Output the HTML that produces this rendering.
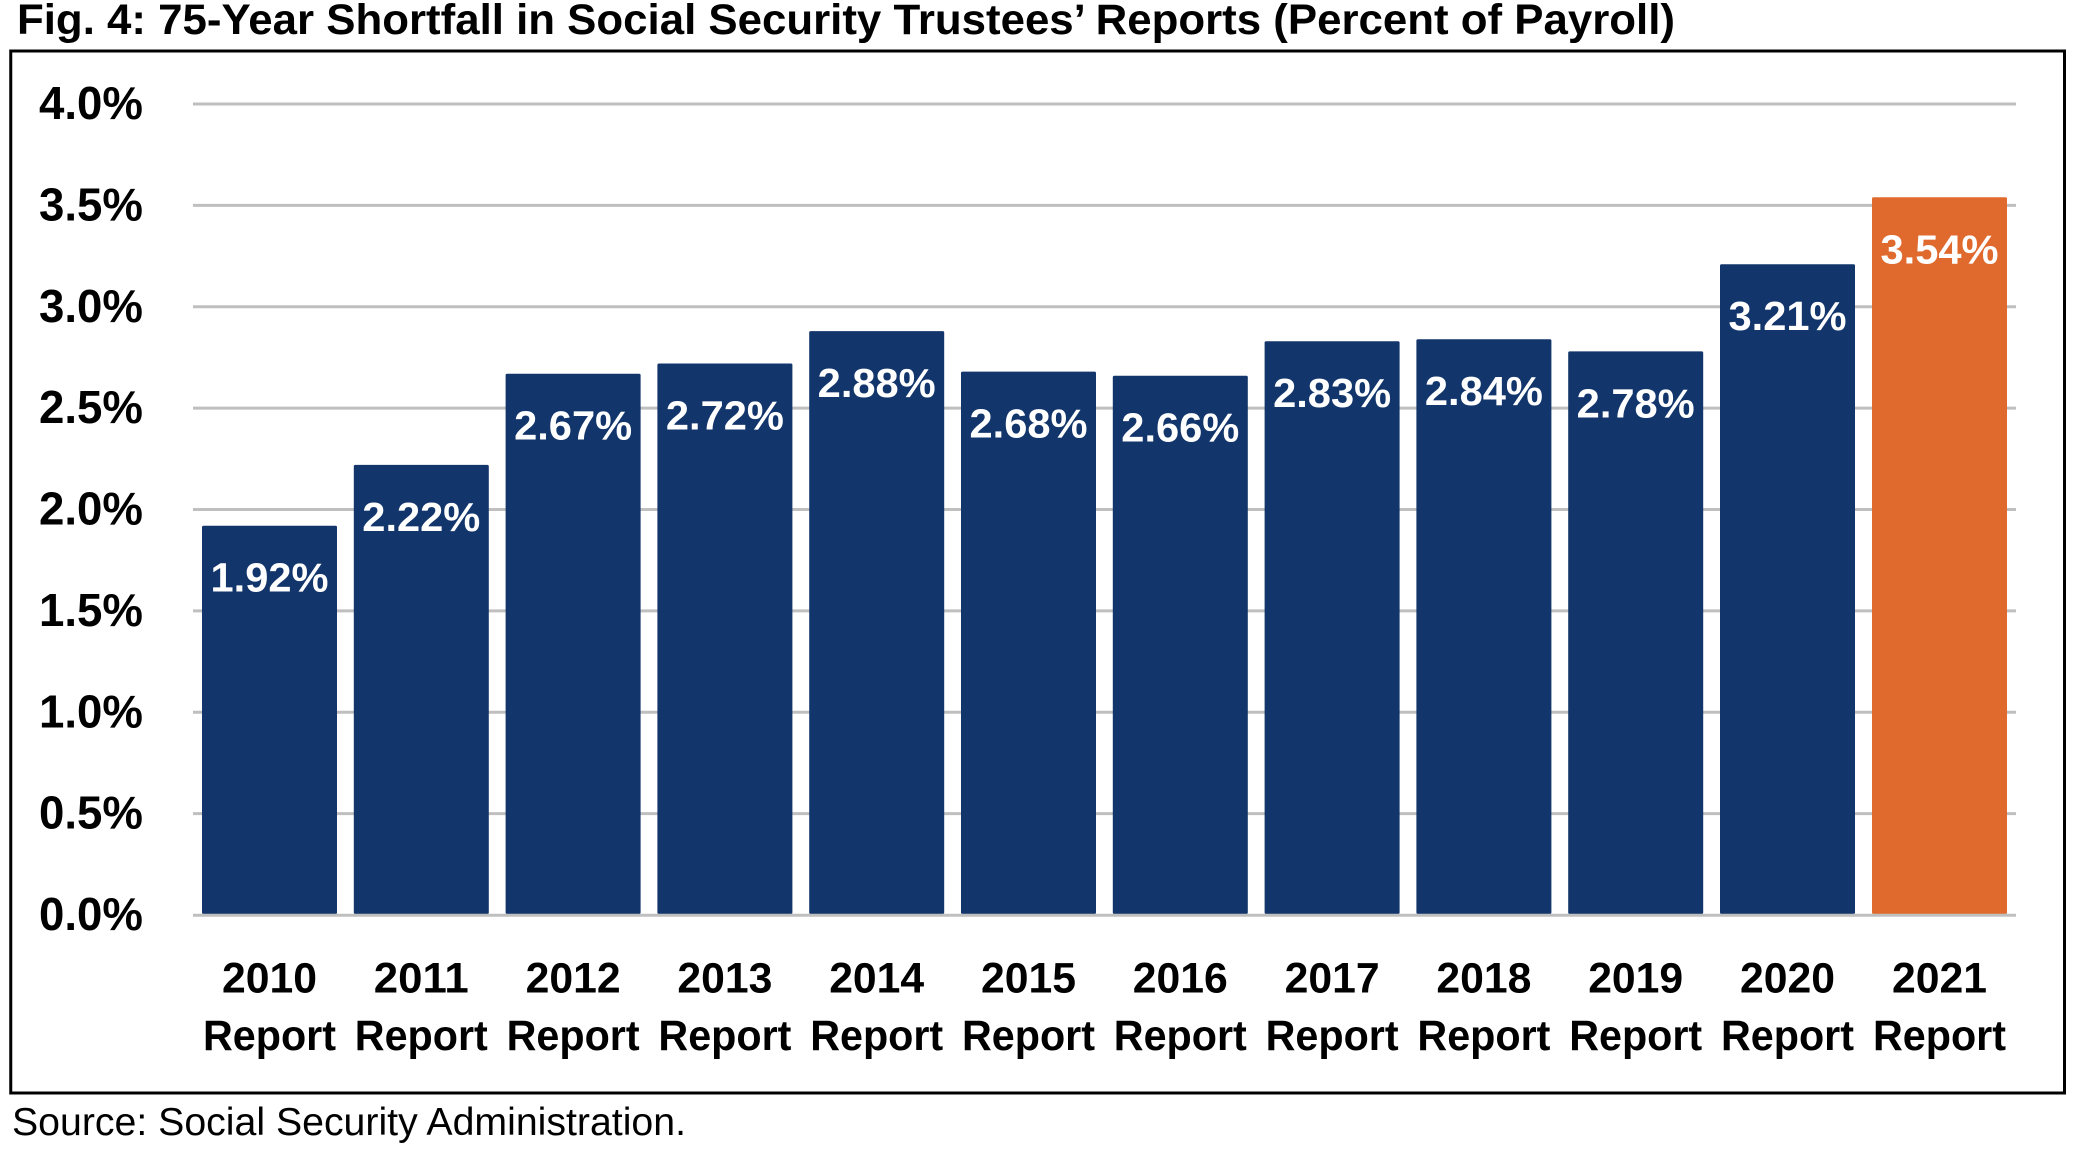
<!DOCTYPE html>
<html>
<head>
<meta charset="utf-8">
<style>
html,body{margin:0;padding:0;background:#fff;}
svg{display:block;}
</style>
</head>
<body>
<svg width="2080" height="1154" viewBox="0 0 2080 1154" xmlns="http://www.w3.org/2000/svg">
<rect x="0" y="0" width="2080" height="1154" fill="#ffffff"/>
<!-- Title -->
<text x="17" y="34" font-family="Liberation Sans, Arial, sans-serif" font-weight="bold" font-size="43" fill="#000" textLength="1658" lengthAdjust="spacingAndGlyphs">Fig. 4: 75-Year Shortfall in Social Security Trustees’ Reports (Percent of Payroll)</text>
<!-- Frame -->
<rect x="10.75" y="51" width="2053.75" height="2042" fill="none" stroke="#000" stroke-width="3" style="display:none"/>
<rect x="10.75" y="51" width="2053.75" height="1042" fill="none" stroke="#000" stroke-width="3"/>
<!-- Gridlines -->
<g stroke="#bfbfbf" stroke-width="3">
<line x1="193" y1="104" x2="2016" y2="104"/>
<line x1="193" y1="205.4" x2="2016" y2="205.4"/>
<line x1="193" y1="306.8" x2="2016" y2="306.8"/>
<line x1="193" y1="408.1" x2="2016" y2="408.1"/>
<line x1="193" y1="509.5" x2="2016" y2="509.5"/>
<line x1="193" y1="610.9" x2="2016" y2="610.9"/>
<line x1="193" y1="712.3" x2="2016" y2="712.3"/>
<line x1="193" y1="813.6" x2="2016" y2="813.6"/>
</g>
<!-- Y labels -->
<g font-family="Liberation Sans, Arial, sans-serif" font-weight="bold" font-size="46" fill="#000" text-anchor="end">
<text x="143" y="119" textLength="104" lengthAdjust="spacingAndGlyphs">4.0%</text>
<text x="143" y="220.4" textLength="104" lengthAdjust="spacingAndGlyphs">3.5%</text>
<text x="143" y="321.8" textLength="104" lengthAdjust="spacingAndGlyphs">3.0%</text>
<text x="143" y="423.1" textLength="104" lengthAdjust="spacingAndGlyphs">2.5%</text>
<text x="143" y="524.5" textLength="104" lengthAdjust="spacingAndGlyphs">2.0%</text>
<text x="143" y="625.9" textLength="104" lengthAdjust="spacingAndGlyphs">1.5%</text>
<text x="143" y="727.3" textLength="104" lengthAdjust="spacingAndGlyphs">1.0%</text>
<text x="143" y="828.6" textLength="104" lengthAdjust="spacingAndGlyphs">0.5%</text>
<text x="143" y="930" textLength="104" lengthAdjust="spacingAndGlyphs">0.0%</text>
</g>
<!-- Bars -->
<g fill="#12356b">
<rect x="202" y="525.7" width="135" height="388.3" rx="1.5"/>
<rect x="353.8" y="464.9" width="135" height="449.1" rx="1.5"/>
<rect x="505.6" y="373.7" width="135" height="540.3" rx="1.5"/>
<rect x="657.4" y="363.5" width="135" height="550.5" rx="1.5"/>
<rect x="809.2" y="331.1" width="135" height="582.9" rx="1.5"/>
<rect x="961" y="371.6" width="135" height="542.4" rx="1.5"/>
<rect x="1112.8" y="375.7" width="135" height="538.3" rx="1.5"/>
<rect x="1264.6" y="341.2" width="135" height="572.8" rx="1.5"/>
<rect x="1416.4" y="339.2" width="135" height="574.8" rx="1.5"/>
<rect x="1568.2" y="351.4" width="135" height="562.6" rx="1.5"/>
<rect x="1720" y="264.2" width="135" height="649.8" rx="1.5"/>
</g>
<rect x="1872" y="197.3" width="135" height="716.7" rx="1.5" fill="#e06a2e"/>
<!-- Zero line -->
<line x1="193" y1="915.2" x2="2016" y2="915.2" stroke="#bfbfbf" stroke-width="3"/>
<!-- Data labels -->
<g font-family="Liberation Sans, Arial, sans-serif" font-weight="bold" font-size="41" fill="#ffffff" text-anchor="middle">
<text x="269.5" y="591.7" textLength="118" lengthAdjust="spacingAndGlyphs">1.92%</text>
<text x="421.3" y="530.9" textLength="118" lengthAdjust="spacingAndGlyphs">2.22%</text>
<text x="573.1" y="439.7" textLength="118" lengthAdjust="spacingAndGlyphs">2.67%</text>
<text x="724.9" y="429.5" textLength="118" lengthAdjust="spacingAndGlyphs">2.72%</text>
<text x="876.7" y="397.1" textLength="118" lengthAdjust="spacingAndGlyphs">2.88%</text>
<text x="1028.5" y="437.6" textLength="118" lengthAdjust="spacingAndGlyphs">2.68%</text>
<text x="1180.3" y="441.7" textLength="118" lengthAdjust="spacingAndGlyphs">2.66%</text>
<text x="1332.1" y="407.2" textLength="118" lengthAdjust="spacingAndGlyphs">2.83%</text>
<text x="1483.9" y="405.2" textLength="118" lengthAdjust="spacingAndGlyphs">2.84%</text>
<text x="1635.7" y="417.4" textLength="118" lengthAdjust="spacingAndGlyphs">2.78%</text>
<text x="1787.5" y="330.2" textLength="118" lengthAdjust="spacingAndGlyphs">3.21%</text>
<text x="1939.5" y="263.3" textLength="118" lengthAdjust="spacingAndGlyphs">3.54%</text>
</g>
<!-- Category labels -->
<g font-family="Liberation Sans, Arial, sans-serif" font-weight="bold" font-size="43" fill="#000" text-anchor="middle">
<text x="269.5" y="992.7" textLength="95" lengthAdjust="spacingAndGlyphs">2010</text>
<text x="421.3" y="992.7" textLength="95" lengthAdjust="spacingAndGlyphs">2011</text>
<text x="573.1" y="992.7" textLength="95" lengthAdjust="spacingAndGlyphs">2012</text>
<text x="724.9" y="992.7" textLength="95" lengthAdjust="spacingAndGlyphs">2013</text>
<text x="876.7" y="992.7" textLength="95" lengthAdjust="spacingAndGlyphs">2014</text>
<text x="1028.5" y="992.7" textLength="95" lengthAdjust="spacingAndGlyphs">2015</text>
<text x="1180.3" y="992.7" textLength="95" lengthAdjust="spacingAndGlyphs">2016</text>
<text x="1332.1" y="992.7" textLength="95" lengthAdjust="spacingAndGlyphs">2017</text>
<text x="1483.9" y="992.7" textLength="95" lengthAdjust="spacingAndGlyphs">2018</text>
<text x="1635.7" y="992.7" textLength="95" lengthAdjust="spacingAndGlyphs">2019</text>
<text x="1787.5" y="992.7" textLength="95" lengthAdjust="spacingAndGlyphs">2020</text>
<text x="1939.5" y="992.7" textLength="95" lengthAdjust="spacingAndGlyphs">2021</text>
<text x="269.5" y="1050" textLength="133" lengthAdjust="spacingAndGlyphs">Report</text>
<text x="421.3" y="1050" textLength="133" lengthAdjust="spacingAndGlyphs">Report</text>
<text x="573.1" y="1050" textLength="133" lengthAdjust="spacingAndGlyphs">Report</text>
<text x="724.9" y="1050" textLength="133" lengthAdjust="spacingAndGlyphs">Report</text>
<text x="876.7" y="1050" textLength="133" lengthAdjust="spacingAndGlyphs">Report</text>
<text x="1028.5" y="1050" textLength="133" lengthAdjust="spacingAndGlyphs">Report</text>
<text x="1180.3" y="1050" textLength="133" lengthAdjust="spacingAndGlyphs">Report</text>
<text x="1332.1" y="1050" textLength="133" lengthAdjust="spacingAndGlyphs">Report</text>
<text x="1483.9" y="1050" textLength="133" lengthAdjust="spacingAndGlyphs">Report</text>
<text x="1635.7" y="1050" textLength="133" lengthAdjust="spacingAndGlyphs">Report</text>
<text x="1787.5" y="1050" textLength="133" lengthAdjust="spacingAndGlyphs">Report</text>
<text x="1939.5" y="1050" textLength="133" lengthAdjust="spacingAndGlyphs">Report</text>
</g>
<!-- Source -->
<text x="12" y="1135" font-family="Liberation Sans, Arial, sans-serif" font-size="39" fill="#000" textLength="674" lengthAdjust="spacingAndGlyphs">Source: Social Security Administration.</text>
</svg>
</body>
</html>
